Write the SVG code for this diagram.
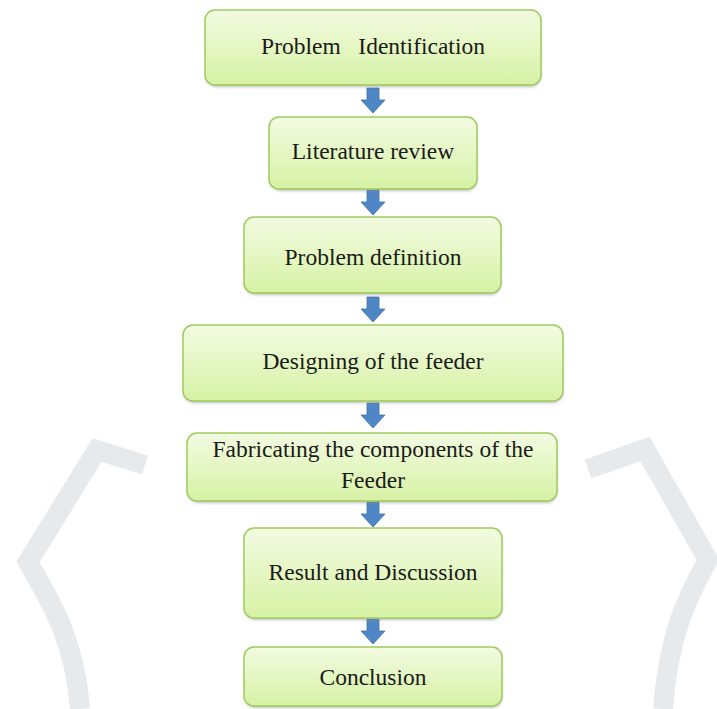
<svg xmlns="http://www.w3.org/2000/svg" width="717" height="709" viewBox="0 0 717 709">
<defs>
<linearGradient id="g" x1="0" y1="0" x2="0" y2="1">
<stop offset="0" stop-color="#f3fbe2"/>
<stop offset="1" stop-color="#d6f2a4"/>
</linearGradient>
<filter id="sh" x="-10%" y="-20%" width="120%" height="150%">
<feGaussianBlur stdDeviation="1.5"/>
</filter>
<path id="arr" d="M-6,0 H6 V12 H12 L0,25 L-12,12 H-6 Z"/>
</defs>
<style>
.box{fill:url(#g);stroke:#9fcb5e;stroke-width:1.5}
.shadow{fill:#8a8a8a;opacity:0.55;filter:url(#sh)}
text{font-family:'Liberation Serif',serif;font-size:23.5px;fill:#1a1a1a;text-anchor:middle}
.a{fill:#4f86c6;stroke:#3f73b0;stroke-width:0.8}
.deco{fill:none;stroke:#e6eaec;stroke-width:20;stroke-linejoin:miter}
</style>
<g id="background">
<path class="deco" d="M145,465 L97,450 L28,562 C50,600 75,640 80,709"/>
<path class="deco" d="M588,469 L645,449 L708,560 C685,600 668,640 663,709"/>
</g>
<g id="connectors">
<use href="#arr" class="a" x="373" y="88"/>
<use href="#arr" class="a" x="373" y="190"/>
<use href="#arr" class="a" x="373" y="297"/>
<use href="#arr" class="a" x="373" y="403"/>
<use href="#arr" class="a" x="373" y="502"/>
<use href="#arr" class="a" x="373" y="619"/>
</g>
<g font-family="Liberation Serif, serif">
<g id="n1">
<rect class="shadow" x="206" y="12" width="335" height="75" rx="10"/>
<rect class="box" x="205" y="10" width="336" height="75" rx="10"/>
<text x="373" y="54" xml:space="preserve">Problem   Identification</text>
</g>
<g id="n2">
<rect class="shadow" x="270" y="119" width="207" height="72" rx="10"/>
<rect class="box" x="269" y="117" width="208" height="72" rx="10"/>
<text x="373" y="159">Literature review</text>
</g>
<g id="n3">
<rect class="shadow" x="245" y="219" width="256" height="76" rx="10"/>
<rect class="box" x="244" y="217" width="257" height="76" rx="10"/>
<text x="373" y="265">Problem definition</text>
</g>
<g id="n4">
<rect class="shadow" x="184" y="327" width="379" height="76" rx="10"/>
<rect class="box" x="183" y="325" width="380" height="76" rx="10"/>
<text x="373" y="369">Designing of the feeder</text>
</g>
<g id="n5">
<rect class="shadow" x="188" y="435" width="369" height="68" rx="10"/>
<rect class="box" x="187" y="433" width="370" height="68" rx="10"/>
<text x="373" y="457">Fabricating the components of the</text>
<text x="373" y="488">Feeder</text>
</g>
<g id="n6">
<rect class="shadow" x="245" y="530" width="257" height="90" rx="10"/>
<rect class="box" x="244" y="528" width="258" height="90" rx="10"/>
<text x="373" y="580">Result and Discussion</text>
</g>
<g id="n7">
<rect class="shadow" x="245" y="649" width="257" height="59" rx="10"/>
<rect class="box" x="244" y="647" width="258" height="59" rx="10"/>
<text x="373" y="685">Conclusion</text>
</g>
</g>
</svg>
